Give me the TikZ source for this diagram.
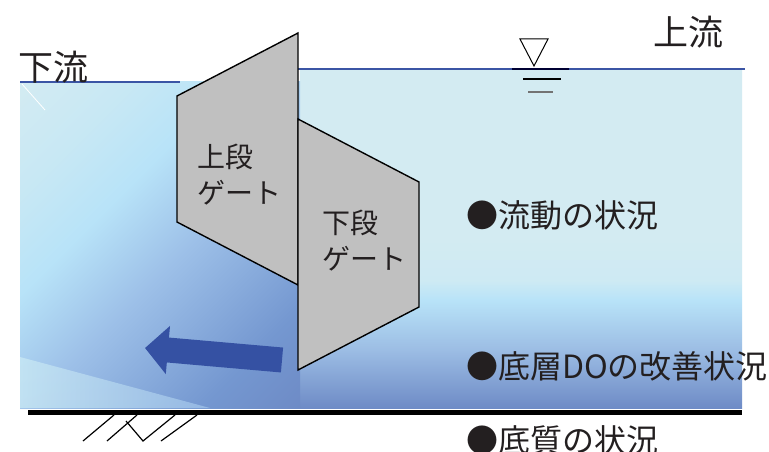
\documentclass[tikz,border=0pt]{standalone}
\usepackage{fontspec}
\setmainfont{Noto Sans CJK JP}
\usetikzlibrary{arrows.meta}

\definecolor{paleblue}{HTML}{D3EBF2}
\definecolor{iceblue}{HTML}{C8E8F4}
\definecolor{mistblue}{HTML}{CEEAF3}
\definecolor{skyblue}{HTML}{B8E3F8}
\definecolor{lakeblue}{HTML}{9DC0E8}
\definecolor{midblue}{HTML}{9CBDE4}
\definecolor{riverblue}{HTML}{7497D0}
\definecolor{deepblue}{HTML}{6E8BC6}
\definecolor{surface}{HTML}{3B55A5}
\definecolor{flowblue}{HTML}{3551A3}
\definecolor{gategray}{HTML}{C0C0C0}
\definecolor{ink}{HTML}{231F20}

\pgfdeclareverticalshading{upstream}{100bp}{color(0bp)=(deepblue); color(25bp)=(deepblue);
  color(33.6bp)=(midblue); color(40.9bp)=(skyblue); color(43.9bp)=(mistblue);
  color(50bp)=(paleblue); color(100bp)=(paleblue)}
\pgfdeclareverticalshading{downstream}{100bp}{color(0bp)=(deepblue); color(14.6bp)=(deepblue);
  color(25.9bp)=(riverblue); color(46.5bp)=(lakeblue); color(60.6bp)=(skyblue);
  color(72.7bp)=(iceblue); color(85.4bp)=(paleblue); color(100bp)=(paleblue)}

\begin{document}
\begin{tikzpicture}[x=1pt,y=-1pt]
\tikzstyle{gate}=[draw=black,fill=gategray,line width=1.4pt,line join=miter]
\tikzstyle{gatelabel}=[anchor=west,align=left,inner sep=0pt,text=ink,font=\fontsize{28}{36}\selectfont]
\tikzstyle{side}=[inner sep=0pt,text=ink,font=\fontsize{35}{40}\selectfont]
\tikzstyle{item}=[anchor=west,inner sep=0pt,text=ink,font=\fontsize{32}{36}\selectfont]
\tikzstyle{level}=[line width=1.3pt]
\tikzstyle{flow}=[draw=flowblue,line width=25pt,-{Triangle[length=23pt,width=47pt]}]
\useasboundingbox (0,0) rectangle (769,452);

\fill[shading=upstream] (300,69) rectangle (742,408);
\fill[shading=downstream,shading angle=45] (20,82) rectangle (300,408);
\shade[left color=iceblue,right color=lakeblue,fill opacity=0.8] (20,357) -- (210,408) -- (20,408) -- cycle;
\draw[white,line width=0.8pt] (22,84) -- (45,110);

\draw[surface,line width=2pt] (20,82) -- (180,82);
\draw[surface,line width=2pt] (298,69) -- (745,69);
\draw[black!80!blue,line width=2pt] (512,69) -- (569,69);
\draw[line width=5pt] (28,412) -- (742,412);

\coordinate (tri a) at (520,39);
\coordinate (tri b) at (548,39);
\coordinate (tri c) at (534,66);
\draw[fill=white,line width=1pt] (tri a) -- (tri b) -- (tri c) -- cycle;
\draw[level] (523,79) -- (561,79);
\draw[level,black!55] (528,92) -- (553,92);

\draw[line width=1.2pt] (83,441) -- (114,415)
  (107,441) -- (137,415)
  (126,421) -- (143,441) -- (175,415)
  (161,441) -- (197,415);

\coordinate (flow tail) at (282,360);
\coordinate (flow tip) at (145,348);
\draw[flow] (flow tail) -- (flow tip);

\draw[gate] (177,96) -- (298,33) -- (298,285) -- (177,222) -- cycle;
\draw[gate] (298,119) -- (419,182) -- (419,307) -- (298,370) -- cycle;

\node[gatelabel] (upper) at (197,175) {上段\\ゲート};
\node[gatelabel] (lower) at (322,241) {下段\\ゲート};

\node[side] (down) at (53,67) {下流};
\node[side] (up) at (688,32) {上流};

\node[item] (flowstate) at (466,215) {●流動の状況};
\node[item] (bottomdo) at (466,366) {●底層DOの改善状況};
\node[item] (sediment) at (466,440) {●底質の状況};
\end{tikzpicture}
\end{document}
